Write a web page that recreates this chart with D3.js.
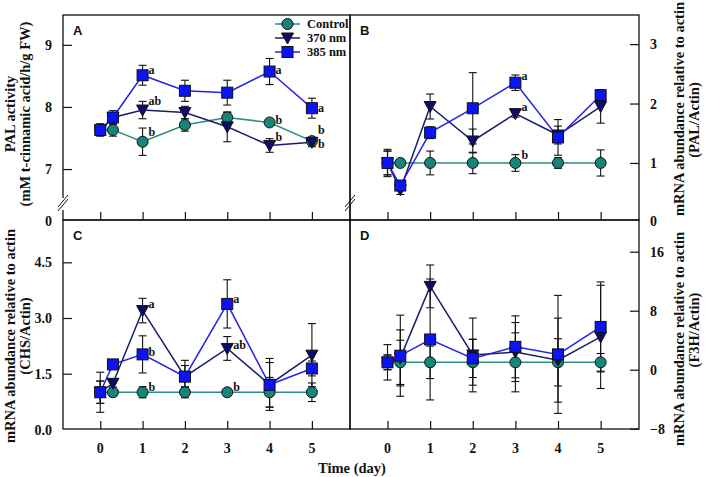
<!DOCTYPE html>
<html>
<head>
<meta charset="utf-8">
<script src="https://cdn.jsdelivr.net/npm/d3@7/dist/d3.min.js"></script>
<style>
  body { margin: 0; background: #fff; }
  svg { display: block; }
  .tick-lab { font-family: "Liberation Serif", "Times New Roman", serif; font-weight: bold; font-size: 14px; fill: #111; }
  .ax-title { font-family: "Liberation Serif", "Times New Roman", serif; font-weight: bold; font-size: 14.5px; fill: #111; }
  .panel-lab { font-family: "Liberation Sans", Arial, sans-serif; font-weight: bold; font-size: 13px; fill: #111; }
  .sig { font-family: "Liberation Serif", "Times New Roman", serif; font-weight: bold; font-size: 12px; fill: #111; }
  .legend { font-family: "Liberation Serif", "Times New Roman", serif; font-weight: bold; font-size: 12.5px; fill: #111; }
</style>
</head>
<body>
<script>
// sampling days (second point is the few-hours sample)
const days = [0, 0.3, 1, 2, 3, 4, 5]
const dayTicks = [0, 1, 2, 3, 4, 5]
const seriesNames = ["Control", "370 nm", "385 nm"]

// A - PAL activity
const ctrlA = [7.63, 7.63, 7.44, 7.71, 7.83, 7.75, 7.45]
const ctrlErrA = [0.08, 0.1, 0.22, 0.1, 0.08, 0.04, 0.05]
const uv370A = [7.62, 7.83, 7.95, 7.91, 7.68, 7.38, 7.43]
const uv370ErrA = [0.08, 0.08, 0.14, 0.1, 0.24, 0.11, 0.07]
const uv385A = [7.63, 7.83, 8.51, 8.26, 8.23, 8.57, 7.98]
const uv385ErrA = [0.1, 0.11, 0.16, 0.17, 0.2, 0.21, 0.16]

// B - PAL/Actin
const ctrlB = [1, 1, 1, 1, 1, 1, 1]
const ctrlErrB = [0.2, 0.05, 0.2, 0.18, 0.14, 0.09, 0.22]
const uv370B = [1.0, 0.55, 1.95, 1.37, 1.83, 1.47, 1.95]
const uv370ErrB = [0.2, 0.08, 0.21, 0.2, 0.06, 0.15, 0.28]
const uv385B = [1.0, 0.62, 1.51, 1.92, 2.35, 1.43, 2.14]
const uv385ErrB = [0.23, 0.06, 0.1, 0.6, 0.13, 0.3, 0.09]

// C - CHS/Actin
const ctrlC = [1, 1, 1, 1, 1, 1, 1]
const ctrlErrC = [0.3, 0.08, 0.15, 0.15, 0.05, 0.4, 0.25]
const uv370C = [1.0, 1.24, 3.2, 1.42, 2.18, 1.21, 2.0]
const uv370ErrC = [0.3, 0.1, 0.33, 0.3, 0.32, 0.7, 0.85]
const uv385C = [1.0, 1.75, 2.02, 1.42, 3.38, 1.2, 1.64]
const uv385ErrC = [0.54, 0.1, 0.5, 0.44, 0.65, 0.6, 0.2]

// D - F3H/Actin
const ctrlD = [1, 1, 1, 1, 1, 1, 1]
const ctrlErrD = [1.0, 3.0, 2.2, 3.1, 4.0, 3.2, 1.2]
const uv370D = [1.0, 1.6, 11.3, 2.0, 2.4, 1.3, 4.45]
const uv370ErrD = [1.0, 3.8, 2.9, 5.0, 4.0, 5.7, 7.0]
const uv385D = [1.0, 1.9, 4.1, 1.54, 3.1, 2.08, 5.8]
const uv385ErrD = [2.4, 5.5, 8.2, 2.6, 4.2, 8.0, 6.1]

// y tick labels
const ticksA = [7, 8, 9]
const ticksB = [1, 2, 3]
const ticksC = [1.5, 3.0, 4.5]
const ticksD = [-8, 0, 8, 16]

// significance letters: day, value, letter
const sigA = [
  {day: 1, value: 8.60, text: "a"}, {day: 1, value: 8.10, text: "ab"}, {day: 1, value: 7.59, text: "b"},
  {day: 4, value: 8.60, text: "a"}, {day: 4, value: 7.79, text: "b"}, {day: 4, value: 7.52, text: "b"},
  {day: 5, value: 7.99, text: "a"}, {day: 5, value: 7.63, text: "b"}, {day: 5, value: 7.40, text: "b"}
]
const sigB = [
  {day: 3, value: 2.46, text: "a"}, {day: 3, value: 1.94, text: "a"}, {day: 3, value: 1.13, text: "b"}
]
const sigC = [
  {day: 1, value: 3.38, text: "a"}, {day: 1, value: 2.09, text: "b"}, {day: 1, value: 1.13, text: "b"},
  {day: 3, value: 3.52, text: "a"}, {day: 3, value: 2.27, text: "ab"}, {day: 3, value: 1.13, text: "b"}
]

const W = 708, H = 477
const svg = d3.select("body").append("svg").attr("width", W).attr("height", H)

const styles = [
  {line: "#2a8c82", fill: "#17847a", shape: "circle"},
  {line: "#1c1c6c", fill: "#0c0c6a", shape: "triangle"},
  {line: "#2424e8", fill: "#0a14f5", shape: "square"}
]

// panel frames
const colX = [[63, 350], [350, 639]]
const rowY = [[15, 220], [220, 429]]
const xDomain = [-0.88, 5.9]

const panels = [
  {name: "A", col: 0, row: 0, yDom: [6.18, 9.48], ticks: ticksA, fmt: d3.format("d"), side: "left",
   zero: "0", brk: true, series: [[ctrlA, ctrlErrA], [uv370A, uv370ErrA], [uv385A, uv385ErrA]], sig: sigA, legend: true},
  {name: "B", col: 1, row: 0, yDom: [0.04, 3.49], ticks: ticksB, fmt: d3.format("d"), side: "right",
   zero: "0", series: [[ctrlB, ctrlErrB], [uv370B, uv370ErrB], [uv385B, uv385ErrB]], sig: sigB},
  {name: "C", col: 0, row: 1, yDom: [0.01, 5.64], ticks: ticksC, fmt: d3.format(".1f"), side: "left",
   zero: "0.0", series: [[ctrlC, ctrlErrC], [uv370C, uv370ErrC], [uv385C, uv385ErrC]], sig: sigC, xlabels: true},
  {name: "D", col: 1, row: 1, yDom: [-8.04, 20.3], ticks: ticksD, fmt: d3.format("d"), side: "right",
   series: [[ctrlD, ctrlErrD], [uv370D, uv370ErrD], [uv385D, uv385ErrD]], sig: [], xlabels: true}
]

function marker(g, shape, fill, x, y) {
  if (shape === "circle") {
    g.append("circle").attr("cx", x).attr("cy", y).attr("r", 5.5)
      .attr("fill", fill).attr("stroke", "#111").attr("stroke-width", 1)
  } else if (shape === "square") {
    g.append("rect").attr("x", x - 5.5).attr("y", y - 5.5).attr("width", 11).attr("height", 11)
      .attr("fill", fill).attr("stroke", "#111").attr("stroke-width", 1)
  } else {
    g.append("path").attr("d", `M${x - 6},${y - 5}L${x + 6},${y - 5}L${x},${y + 6}Z`)
      .attr("fill", fill).attr("stroke", "#111").attr("stroke-width", 1)
  }
}

function drawPanel(p) {
  const [x0, x1] = colX[p.col]
  const [y0, y1] = rowY[p.row]
  const x = d3.scaleLinear().domain(xDomain).range([x0, x1])
  const y = d3.scaleLinear().domain(p.yDom).range([y1, y0])
  const g = svg.append("g")

  // x ticks (inward, bottom edge)
  const xAxis = g.append("g").attr("transform", `translate(0,${y1})`)
    .call(d3.axisTop(x).tickValues(dayTicks).tickSize(8).tickFormat(""))
  xAxis.select(".domain").remove()
  xAxis.selectAll("line").attr("stroke", "#111").attr("stroke-width", 1.2)
  if (p.xlabels) {
    g.selectAll(".xl").data(dayTicks).join("text")
      .attr("class", "tick-lab").attr("text-anchor", "middle")
      .attr("x", d => x(d)).attr("y", y1 + 24).text(d => d)
  }

  // y ticks (inward)
  const yAxisGen = p.side === "left" ? d3.axisRight(y) : d3.axisLeft(y)
  const ax = p.side === "left" ? x0 : x1
  const yAxis = g.append("g").attr("transform", `translate(${ax},0)`)
    .call(yAxisGen.tickValues(p.ticks).tickSize(9).tickFormat(""))
  yAxis.select(".domain").remove()
  yAxis.selectAll("line").attr("stroke", "#111").attr("stroke-width", 1.2)
  const lx = p.side === "left" ? x0 - 11 : x1 + 11
  const anchor = p.side === "left" ? "end" : "start"
  g.selectAll(".yl").data(p.ticks).join("text")
    .attr("class", "tick-lab").attr("text-anchor", anchor)
    .attr("x", lx).attr("y", d => y(d) + 5).text(d => p.fmt(d))
  if (p.zero) {
    g.append("text").attr("class", "tick-lab").attr("text-anchor", anchor)
      .attr("x", lx).attr("y", y1 + 6).text(p.zero)
  }

  // frame
  g.append("rect").attr("x", x0).attr("y", y0).attr("width", x1 - x0).attr("height", y1 - y0)
    .attr("fill", "none").attr("stroke", "#111").attr("stroke-width", 1.3)

  // axis break marks
  if (p.brk) {
    for (const bx of [x0, x1]) {
      g.append("rect").attr("x", bx - 2).attr("y", 198).attr("width", 4).attr("height", 12).attr("fill", bx === x0 ? "#fff" : "none")
      for (const off of [0, 4]) {
        g.append("line").attr("x1", bx - 5).attr("y1", 211 - off).attr("x2", bx + 5).attr("y2", 199 - off)
          .attr("stroke", "#111").attr("stroke-width", 1)
      }
    }
  }

  g.append("text").attr("class", "panel-lab").attr("x", x0 + 10).attr("y", y0 + 20).text(p.name)

  // series: lines, error bars, markers
  p.series.forEach((s, i) => {
    const [vals, errs] = s
    const st = styles[i]
    const pts = days.map((d, k) => ({day: d, v: vals[k], e: errs[k]}))
    g.append("path").datum(pts)
      .attr("fill", "none").attr("stroke", st.line).attr("stroke-width", 1.5)
      .attr("d", d3.line().x(d => x(d.day)).y(d => y(d.v)))
    pts.forEach(d => {
      const cx = x(d.day), top = y(d.v + d.e), bot = y(d.v - d.e)
      g.append("line").attr("x1", cx).attr("x2", cx).attr("y1", top).attr("y2", bot).attr("stroke", "#111").attr("stroke-width", 1.1)
      for (const yy of [top, bot]) {
        g.append("line").attr("x1", cx - 4).attr("x2", cx + 4).attr("y1", yy).attr("y2", yy).attr("stroke", "#111").attr("stroke-width", 1.1)
      }
    })
  })
  p.series.forEach((s, i) => {
    const st = styles[i]
    days.forEach((d, k) => marker(g, st.shape, st.fill, x(d), y(s[0][k])))
  })

  // significance letters
  g.selectAll(".sig").data(p.sig).join("text")
    .attr("class", "sig").attr("x", d => x(d.day) + 6).attr("y", d => y(d.value) + 4).text(d => d.text)

  if (p.legend) {
    seriesNames.forEach((n, i) => {
      const ly = 24 + i * 14
      const st = styles[i]
      g.append("line").attr("x1", 275).attr("x2", 300).attr("y1", ly).attr("y2", ly).attr("stroke", st.line).attr("stroke-width", 1.5)
      marker(g, st.shape, st.fill, 287.5, ly)
      g.append("text").attr("class", "legend").attr("x", 307).attr("y", ly + 4).text(n)
    })
  }
}

panels.forEach(drawPanel)

// axis titles
function vtext(lines, cx, cy) {
  lines.forEach(([t, dx]) => {
    svg.append("text").attr("class", "ax-title").attr("text-anchor", "middle")
      .attr("transform", `translate(${cx + dx},${cy}) rotate(-90)`).text(t)
  })
}
vtext([["PAL activity", 0], ["(mM t-cinnamic acid/h/g FW)", 15]], 15, 114)
vtext([["mRNA abundance relative to actin", 0], ["(CHS/Actin)", 15]], 15, 336)
vtext([["mRNA abundance relative to actin", 0]], 684, 109)
vtext([["(PAL/Actin)", 0]], 699, 120)
vtext([["mRNA abundance relative to actin", 0]], 684, 339)
vtext([["(F3H/Actin)", 0]], 699, 330)

svg.append("text").attr("class", "ax-title").attr("text-anchor", "middle")
  .attr("x", 352).attr("y", 473).text("Time (day)")
</script>
</body>
</html>
